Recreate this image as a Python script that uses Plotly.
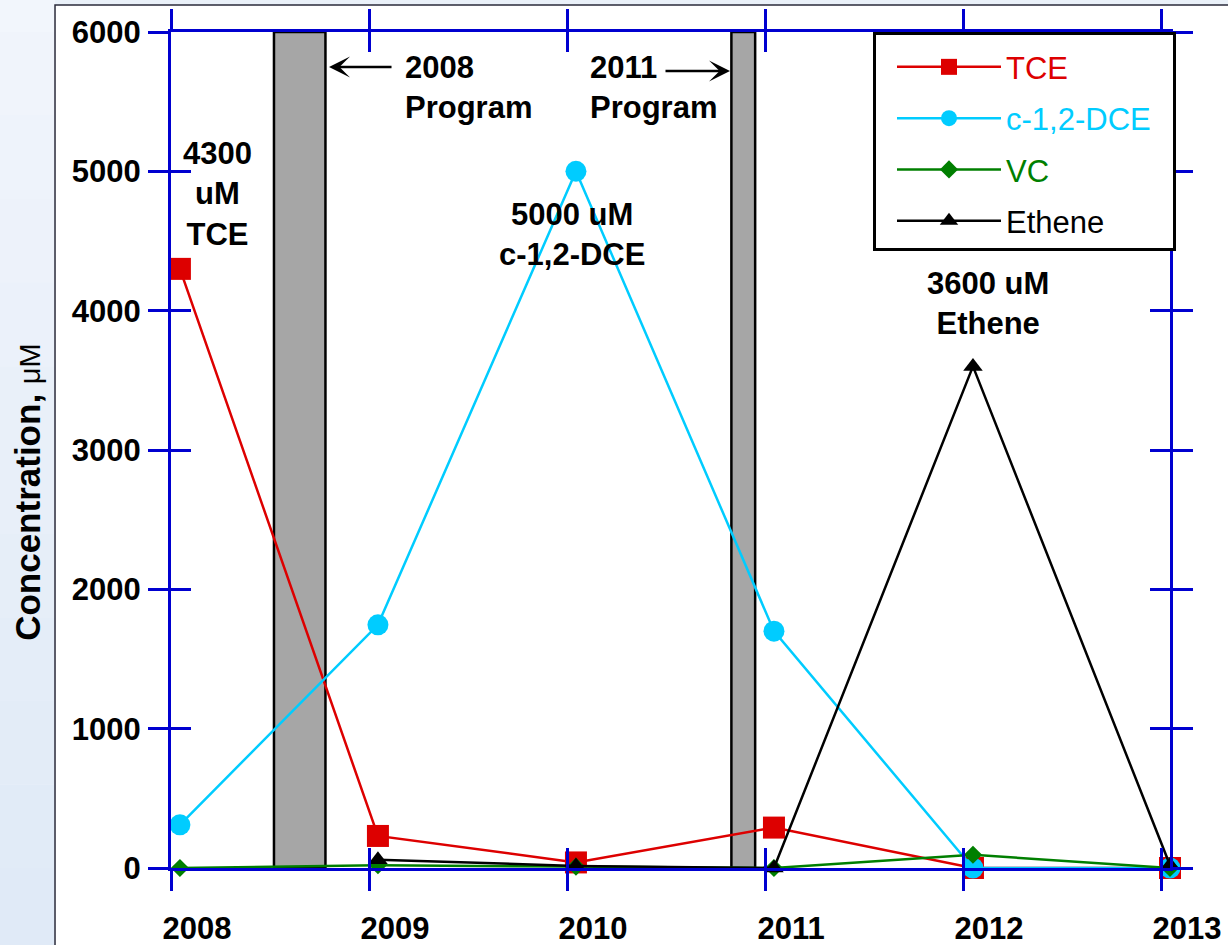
import plotly.graph_objects as go

# Sampling dates (fractional years) and measured concentrations (uM)
sample_dates = [2008.045, 2009.045, 2010.045, 2011.045, 2012.05, 2013.045]
tce = [4300, 230, 40, 290, 0, 0]
dce = [310, 1745, 5000, 1700, 0, 0]
vc = [0, 20, 10, 0, 95, 0]
ethene = [None, 60, 15, 0, 3600, 20]

year_ticks = [2008, 2009, 2010, 2011, 2012, 2013]
conc_ticks = [0, 1000, 2000, 3000, 4000, 5000, 6000]

# Injection program windows (fractional years)
program_2008 = (2008.52, 2008.78)
program_2011 = (2010.83, 2010.95)

FONT = "Arial, Liberation Sans, Helvetica, sans-serif"
AXIS_BLUE = "#0000D0"
RED = "#DD0000"
CYAN = "#00CCFF"
GREEN = "#007F00"

fig = go.Figure()

series = [
    ("TCE", tce, RED, "square", 22, ""),
    ("c-1,2-DCE", dce, CYAN, "circle", 21, "\u00a0\u00a0"),
    ("VC", vc, GREEN, "diamond", 14, ""),
    ("Ethene", ethene, "black", "triangle-up", 17, ""),
]
for i, (name, vals, color, symbol, size, pad) in enumerate(series):
    fig.add_trace(go.Scatter(
        x=sample_dates, y=vals, mode="lines+markers",
        name=f"<span style='color:{color}'>{name}</span>{pad}",
        line=dict(color=color, width=2.5),
        marker=dict(symbol=symbol, size=size, color=color, line=dict(width=0)),
        cliponaxis=False, legendgroup=f"g{i}",
    ))

# companion axes carrying the inward half of each tick mark
fig.add_trace(go.Scatter(x=[None], y=[None], xaxis="x2", yaxis="y2",
                         showlegend=False, hoverinfo="skip"))

xr = [2008, 2013.045]
yr = [0, 6000]

fig.update_layout(
    width=1228, height=945,
    margin=dict(l=171, r=58, t=32, b=77),
    paper_bgcolor="#EAF1F9",
    plot_bgcolor="rgba(0,0,0,0)",
    font=dict(family=FONT, size=31, color="black"),
    showlegend=True,
    legend=dict(
        x=0.7027, y=1.0, xanchor="left", yanchor="top",
        bgcolor="white", bordercolor="black", borderwidth=3,
        font=dict(family=FONT, size=31),
        itemwidth=104, tracegroupgap=8, indentation=16,
        title=dict(text="\u00a0", font=dict(size=4)),
    ),
    xaxis=dict(
        range=xr, tickmode="array", tickvals=year_ticks,
        ticktext=[f"<b>{y}</b>" for y in year_ticks],
        ticks="outside", ticklen=20, tickwidth=3, tickcolor=AXIS_BLUE,
        showline=True, linecolor=AXIS_BLUE, linewidth=3, mirror="ticks",
        showgrid=False, zeroline=False, automargin=False,
        tickfont=dict(family=FONT, size=31, color="black"),
        ticklabelshift=26, ticklabelstandoff=11,
    ),
    yaxis=dict(
        range=yr, tickmode="array", tickvals=conc_ticks,
        ticktext=[f"<b>{v}</b>" for v in conc_ticks],
        ticks="outside", ticklen=20, tickwidth=3, tickcolor=AXIS_BLUE,
        showline=True, linecolor=AXIS_BLUE, linewidth=3, mirror="ticks",
        showgrid=False, zeroline=False, automargin=False,
        tickfont=dict(family=FONT, size=31, color="black"),
        ticklabelstandoff=1,
    ),
    xaxis2=dict(
        range=xr, overlaying="x", anchor="y2", tickmode="array",
        tickvals=year_ticks, ticks="inside", ticklen=20, tickwidth=3,
        tickcolor=AXIS_BLUE, mirror="ticks", showline=False, automargin=False,
        showticklabels=False, showgrid=False, zeroline=False,
    ),
    yaxis2=dict(
        range=yr, overlaying="y", anchor="x2", tickmode="array",
        tickvals=conc_ticks, ticks="inside", ticklen=20, tickwidth=3,
        tickcolor=AXIS_BLUE, mirror="ticks", showline=False, automargin=False,
        showticklabels=False, showgrid=False, zeroline=False,
    ),
)

shapes = []
# soft gradient strip on the left edge
n_bands = 12
for k in range(n_bands):
    t = k / (n_bands - 1)
    r = int(0xE0 + (0xF2 - 0xE0) * t)
    g = int(0xEA + (0xF6 - 0xEA) * t)
    b = int(0xF7 + (0xFC - 0xF7) * t)
    shapes.append(dict(
        type="rect", xref="paper", yref="paper", layer="below",
        x0=-0.2, x1=-0.1161,
        y0=-0.1 + 1.2 * k / n_bands, y1=-0.1 + 1.2 * (k + 1) / n_bands,
        fillcolor=f"rgb({r},{g},{b})", line=dict(width=0),
    ))
# white chart panel
shapes.append(dict(
    type="rect", xref="paper", yref="paper", layer="below",
    x0=-0.1161, x1=1.2, y0=-0.2, y1=1.0323,
    fillcolor="white", line=dict(color="#2B2B3B", width=1.5),
))
# program windows
for x0, x1 in (program_2008, program_2011):
    shapes.append(dict(
        type="rect", xref="x", yref="y", layer="below",
        x0=x0, x1=x1, y0=yr[0], y1=yr[1],
        fillcolor="#A6A6A6", line=dict(color="black", width=2.5),
    ))
fig.update_layout(shapes=shapes)

bold = dict(family=FONT, size=31, color="black")
annotations = [
    dict(x=2008.237, y=4837, text="<b>4300<br>uM<br>TCE</b>", showarrow=False,
         xanchor="center", yanchor="middle", align="center", font=bold),
    dict(x=2009.172, y=5605, text="<b>2008<br>Program</b>", showarrow=False,
         xanchor="left", yanchor="middle", align="left", font=bold),
    dict(x=2010.106, y=5605, text="<b>2011<br>Program</b>", showarrow=False,
         xanchor="left", yanchor="middle", align="left", font=bold),
    dict(x=2010.025, y=4550, text="<b>5000 uM<br>c-1,2-DCE</b>", showarrow=False,
         xanchor="center", yanchor="middle", align="center", font=bold),
    dict(x=2012.126, y=4048, text="<b>3600 uM<br>Ethene</b>", showarrow=False,
         xanchor="center", yanchor="middle", align="center", font=bold),
    # arrows pointing at the program windows
    dict(x=2008.798, y=5749, ax=64, ay=0, text="", showarrow=True,
         arrowhead=3, arrowsize=1.4, arrowwidth=2.5, arrowcolor="black"),
    dict(x=2010.823, y=5720, ax=-66, ay=0, text="", showarrow=True,
         arrowhead=3, arrowsize=1.4, arrowwidth=2.5, arrowcolor="black"),
    # y-axis title
    dict(xref="paper", yref="paper", x=-0.1431, y=0.45,
         text="<b>Concentration,</b> <span style='font-size:29px'>\u03bcM</span>",
         showarrow=False, textangle=-90, xanchor="center", yanchor="middle",
         font=dict(family=FONT, size=35, color="black")),
]
fig.update_layout(annotations=annotations)

fig.write_html("out.html")
